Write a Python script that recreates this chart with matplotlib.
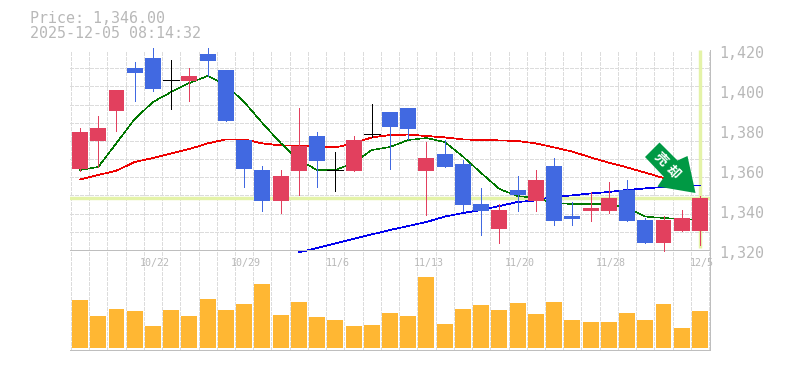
import numpy as np
import matplotlib
matplotlib.use("Agg")
import matplotlib.pyplot as plt
from matplotlib.patches import Polygon
from matplotlib.transforms import ScaledTranslation

W, H = 785, 370
price_text = "Price: 1,346.00"
time_text = "2025-12-05 08:14:32"
last_price = 1346
date_labels = ["10/22", "10/29", "11/6", "11/13", "11/20", "11/28", "12/5"]
date_idx = [4, 9, 14, 19, 24, 29, 34]
price_ticks = [1320, 1340, 1360, 1380, 1400, 1420]

opens = [1360.5,1374.5,1389.5,1411,1416,1405,1404.5,1418,1410,1375,1360,1344.5,1359.5,1377,1360,1359.5,1378,1389,1391,
         1359.5,1368,1363,1343,1330.5,1350,1344.5,1362,1337,1339.5,1339.5,1350,1335,1323.5,1329.5,1329.5]
closes = [1379,1381,1400,1408.5,1400.5,1405,1407,1414.5,1384.5,1360.5,1344.5,1357,1372,1364.5,1360,1375,1378,1381.5,1380.5,
          1366,1361.5,1342.5,1339.5,1340,1347.5,1355,1334.5,1335.5,1341,1346,1334.5,1323.5,1335,1336,1346]
highs = [1381,1387,1400,1414,1421,1415,1411,1421,1410,1375,1362,1360,1391,1379,1369,1377,1393,1389,1391,
         1374,1375,1365,1351,1343,1357,1360,1366,1344,1349,1354,1355,1336,1337,1340,1347]
lows = [1359.7,1361.7,1379.5,1394.5,1399.5,1390.5,1394.5,1407,1384.5,1351.5,1339.5,1338.5,1347.5,1351.5,1349.5,1359.5,1376.5,1360.5,1375.5,
        1337.5,1361.5,1339.5,1327.5,1323.5,1339.5,1339.5,1332.5,1332.5,1334.5,1338.5,1334.5,1323.5,1319.5,1329.5,1322.5]
ma_short = [1360,1361.5,1373.5,1385.5,1394,1399,1403.5,1407,1402.5,1394,1383.5,1373.5,1365,1360,1360,1363.5,1370,1371.5,1375,
            1376,1374,1366.7,1358.5,1350.5,1347,1346,1343.5,1343,1343,1343,1341,1336.7,1336,1335.5,1335]
ma_mid = [1355.3,1357.5,1359.7,1364,1366,1368.3,1370.5,1373.3,1375.3,1375.3,1373.3,1372.3,1372.3,1371.7,1371.3,1373.3,1376.3,1377.5,1377.7,
          1377,1376.3,1375.3,1375,1374.8,1374.5,1373.3,1371.3,1369.2,1366.3,1363.7,1361.3,1358.7,1356,1353.5,np.nan]
ma_long = [np.nan]*12 + [1318.8,1321,1323.3,1325.6,1327.8,1330,1332,1334,1336.7,1338.5,1340,1342,1344,1344.8,1346.7,1347.3,1348.3,1349,1350,1350.8,1351.5,1352,1352.3]
volumes = [48,32,39,37,22,38,32,49,38,44,64,33,46,31,28,22,23,35,
           32,71,24,39,43,38,45,34,46,28,26,26,35,28,44,20,37]

C_UP, C_DOWN, C_VOL = "#E2405E", "#4169E1", "#FFB733"
C_TEXT, C_AXIS, C_GRID = "#B8B8B8", "#BEBEBE", "#DCDCDC"
C_MARK, C_ARROW = "#E4F3A8", "#009944"
PX = 72 / 100
MONO = "DejaVu Sans Mono"

x = np.arange(len(opens))
o, c, hi, lo = map(np.array, (opens, closes, highs, lows))
fig = plt.figure(figsize=(W/100, H/100), dpi=100, facecolor="white")
ax = fig.add_axes([70/W, (H-250)/H, 640/W, 200/H], zorder=3)
vx = fig.add_axes([70/W, (H-350)/H, 640/W, 100/H], zorder=2)
xlim = (-0.55, 34.55)
edges = np.arange(-0.5, 35, 1)
for a in (ax, vx):
    a.set_xlim(xlim)
    a.patch.set_alpha(0)
    a.set_axisbelow(True)
    for s in ("top", "left"):
        a.spines[s].set_visible(False)
    for s in ("bottom", "right"):
        a.spines[s].set_color(C_AXIS)
        a.spines[s].set_linewidth(PX)
    a.set_xticks(edges, minor=True)
    a.tick_params(which="both", length=0)
    a.grid(which="minor", axis="x", color=C_GRID, lw=PX, ls=(0, (3, 2)), antialiased=False)
    a.set_xticks([])

ax.set_ylim(1320, 1420)
ax.set_yticks(np.linspace(1320, 1420, 12), minor=True)
ax.grid(which="minor", axis="y", color=C_GRID, lw=PX, ls=(0, (3, 2)), antialiased=False)
ax.yaxis.tick_right()
ax.set_yticks(price_ticks)
ax.set_yticklabels([f"{t:,}" for t in price_ticks], family=MONO, fontsize=10.8, color=C_TEXT, va="center")
ax.tick_params(axis="y", which="major", pad=6.5)
shift = ScaledTranslation(0, -3/100, fig.dpi_scale_trans)
for lab in ax.get_yticklabels():
    lab.set_transform(lab.get_transform() + shift)

ax.set_xticks(date_idx)
ax.set_xticklabels(date_labels, family=MONO, fontsize=7.2, color=C_TEXT)
ax.tick_params(axis="x", which="major", pad=6)
shift_x = ScaledTranslation(2/100, 0, fig.dpi_scale_trans)
for lab in ax.get_xticklabels():
    lab.set_transform(lab.get_transform() + shift_x)

ax.axhline(last_price, color=C_MARK, lw=3.4*PX, zorder=1.5)
ax.plot([x[-1], x[-1]], [1321, 1420], color=C_MARK, lw=3.4*PX, zorder=1.5, solid_capstyle="butt")

ax.plot(x, ma_long, color="#0000EE", lw=0.7*PX, zorder=2, clip_on=False, antialiased=False)
ax.plot(x, ma_mid, color="#EE0000", lw=0.7*PX, zorder=2, antialiased=False)
ax.plot(x, ma_short, color="#007700", lw=0.5*PX, zorder=2, antialiased=False)

colors = [C_UP if b > a else C_DOWN if b < a else "black" for a, b in zip(o, c)]
ax.vlines(x, lo, hi, colors=colors, lw=PX, zorder=3, clip_on=False, antialiased=False)
body = o != c
ax.bar(x[body], np.abs(c - o)[body], bottom=np.minimum(o, c)[body], width=0.877,
       color=np.array(colors)[body], zorder=4)
ax.hlines(o[~body], x[~body]-0.44, x[~body]+0.44, colors="black", lw=PX, zorder=4, antialiased=False)

vx.set_ylim(-2, 98)
vx.set_yticks([])
vx.bar(x, volumes, width=0.877, color=C_VOL, zorder=3)

def fp(px, py):
    return (px/W, 1 - py/H)

arrow_px = [(645, 157), (659.5, 142.5), (677.5, 160.5), (687.5, 156), (695.5, 193), (657.5, 186.5), (664, 177)]
fig.add_artist(Polygon([fp(*p) for p in arrow_px], closed=True, transform=fig.transFigure,
                       facecolor=C_ARROW, edgecolor="none", zorder=10))
for ch, (tx, ty) in zip("売却", [(660.5, 159), (672.5, 172.5)]):
    fig.text(*fp(tx, ty), ch, family=["Noto Sans CJK JP", "DejaVu Sans"], fontsize=9.5, weight="bold",
             color="white", rotation=-45, ha="center", va="center", rotation_mode="anchor", zorder=11)

fig.text(*fp(30, 18.5), price_text, family=MONO, fontsize=10.8, color=C_TEXT, va="center")
fig.text(*fp(30, 33), time_text, family=MONO, fontsize=10.8, color=C_TEXT, va="center")
fig.savefig("out.png", dpi=100)
